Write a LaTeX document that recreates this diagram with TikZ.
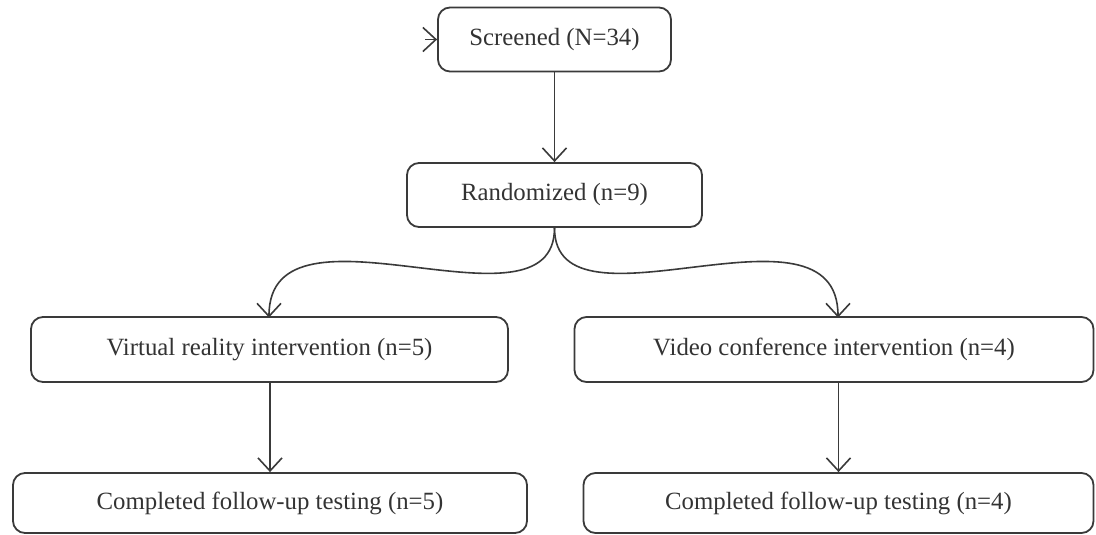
\documentclass[tikz,border=0pt]{standalone}
\usepackage{fontspec}
\setmainfont{Liberation Serif}
\usetikzlibrary{arrows.meta}
\definecolor{edge}{HTML}{3A3A3A}
\definecolor{txt}{HTML}{333333}
\tikzset{
  box/.style={draw=edge, line width=1.8pt, rounded corners=12pt, inner sep=0pt,
    font=\fontsize{24.8}{28}\selectfont, text=txt, minimum height=64pt},
  arr/.style={draw=edge, line width=1.6pt, -{Straight Barb[length=13pt,width=24pt,line width=1.6pt]}}
}
\begin{document}
\begin{tikzpicture}[x=1pt,y=-1pt]
\useasboundingbox (0,0) rectangle (1096,535);
\node[box, minimum width=233pt] (scr) at (554.5,39.5) {Screened (N=34)};
\node[box, minimum width=295pt] (rnd) at (554.5,195) {Randomized (n=9)};
\node[box, minimum width=477pt, minimum height=65pt] (vr) at (269.5,349.5) {Virtual reality intervention (n=5)};
\node[box, minimum width=519pt, minimum height=65pt] (vc) at (834,349.5) {Video conference intervention (n=4)};
\node[box, minimum width=514pt, minimum height=60pt] (c1) at (270,503) {Completed follow-up testing (n=5)};
\node[box, minimum width=510pt, minimum height=60pt] (c2) at (838.5,503) {Completed follow-up testing (n=4)};
\coordinate (s0) at (425,39.5);
\draw[arr] (s0) -- (scr.west);
\draw[arr] (scr.south) -- (rnd.north);
\coordinate (lt) at (269,317.5);
\coordinate (rt) at (838,317.5);
\draw[arr] (rnd.south) .. controls +(0,115) and +(0,-130) .. (lt);
\draw[arr] (rnd.south) .. controls +(0,115) and +(0,-130) .. (rt);
\draw[arr] (vr.south -| c1.north) -- (c1.north);
\draw[arr] (vc.south -| c2.north) -- (c2.north);
\end{tikzpicture}
\end{document}
